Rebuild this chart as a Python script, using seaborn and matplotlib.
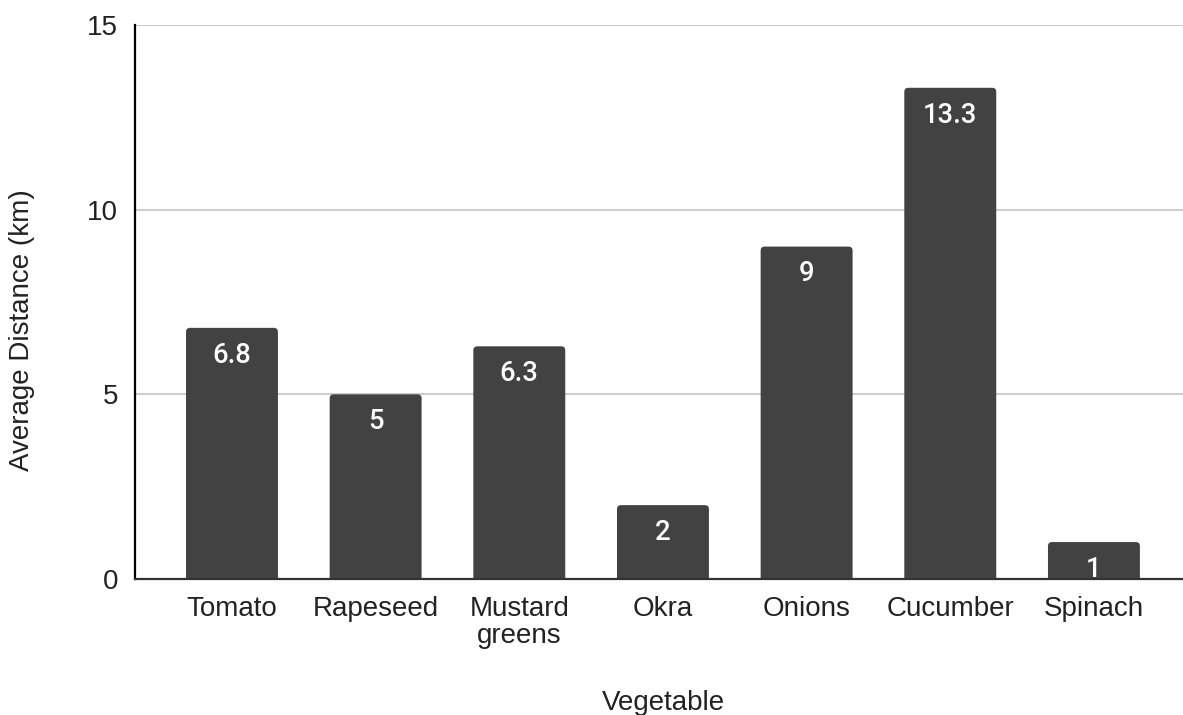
import matplotlib
matplotlib.use("Agg")
import matplotlib.pyplot as plt
from matplotlib.patches import FancyBboxPatch
import seaborn as sns
import pandas as pd

vegetables = ["Tomato", "Rapeseed", "Mustard\ngreens", "Okra", "Onions", "Cucumber", "Spinach"]
distances = [6.8, 5, 6.3, 2, 9, 13.3, 1]
value_labels = ["6.8", "5", "6.3", "2", "9", "13.3", "1"]
y_ticks = [0, 5, 10, 15]

df = pd.DataFrame({"Vegetable": vegetables, "Distance": distances})

sns.set_theme(style="white")
plt.rcParams["font.family"] = ["Liberation Sans", "DejaVu Sans"]

bar_color = "#424242"
text_color = "#222222"
fs = 20

fig = plt.figure(figsize=(11.83, 7.15), dpi=100)
ax = fig.add_axes([135 / 1183, 136 / 715, 1 - 135 / 1183, 554 / 715])

sns.barplot(data=df, x="Vegetable", y="Distance", color=bar_color,
            width=0.64, saturation=1, ax=ax, zorder=3)

ax.set_xlim(-0.675, 6.62)
ax.set_ylim(0, 15)
ax.set_yticks(y_ticks)
ax.yaxis.grid(True, color="#cccccc", linewidth=1.5, zorder=0)
ax.xaxis.grid(False)

# swap the plain rectangles for bars with rounded top corners
rx = 0.028
aspect = (4 / 36.93) / (4 / 143.67)
for p in list(ax.patches):
    x0, w, h = p.get_x(), p.get_width(), p.get_height()
    rounded = FancyBboxPatch((x0, -0.5), w, h + 0.5,
                             boxstyle=f"round,pad=0,rounding_size={rx}",
                             mutation_aspect=aspect,
                             facecolor=bar_color, edgecolor="none",
                             zorder=3, clip_on=True)
    ax.add_patch(rounded)
    p.set_visible(False)

for i, (v, lab) in enumerate(zip(distances, value_labels)):
    ax.annotate(lab, xy=(i, v), xytext=(0, -10), textcoords="offset points",
                ha="center", va="top", color="white", fontsize=19.7,
                family=["Roboto", "DejaVu Sans"], fontweight="medium", zorder=5)

for s in ["top", "right"]:
    ax.spines[s].set_visible(False)
ax.spines["left"].set_color("#000000")
ax.spines["left"].set_linewidth(1.6)
ax.spines["bottom"].set_color("#333333")
ax.spines["bottom"].set_linewidth(1.6)
ax.spines["left"].set_zorder(6)
ax.spines["bottom"].set_zorder(6)

ax.tick_params(axis="both", length=0, labelsize=fs, colors=text_color)
ax.tick_params(axis="y", pad=12)
ax.tick_params(axis="x", pad=12)
for t in ax.get_xticklabels():
    t.set_linespacing(1.05)

ax.set_xlabel("Vegetable", fontsize=fs, color=text_color)
ax.set_ylabel("Average Distance (km)", fontsize=fs, color=text_color)
ax.xaxis.set_label_coords(0.5 - 0.0, (579 - 703) / 554)
ax.xaxis.label.set_verticalalignment("center")
ax.xaxis.label.set_x((663 - 135) / 1048)
ax.yaxis.set_label_coords((22 - 135) / 1048, (579 - 330) / 554)
ax.yaxis.label.set_verticalalignment("center")

fig.savefig("out.png", dpi=100)
